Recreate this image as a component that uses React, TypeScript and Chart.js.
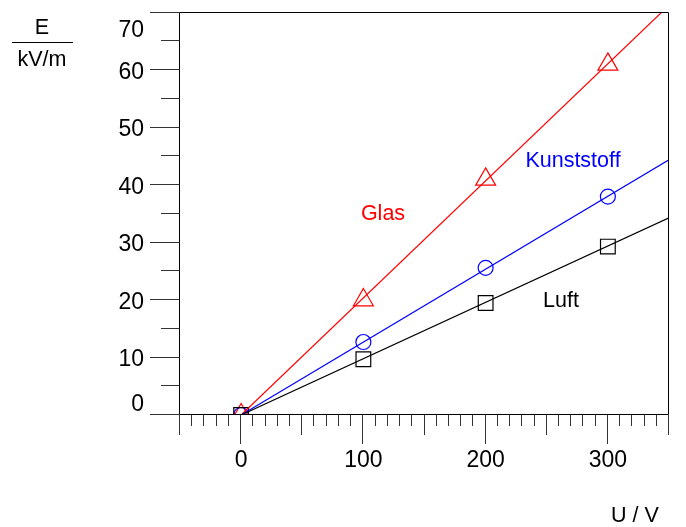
import React, { useEffect, useRef } from "react";
import { Chart, registerables } from "chart.js";

Chart.register(...registerables);

const xValues = [0, 100, 200, 300];
const glas = [0, 20, 41, 61];
const kunststoff = [0, 12.7, 25.6, 38];
const luft = [0, 9.7, 19.5, 29.3];

const fitX = [0, 350];
const glasFit = [0, 71.3];
const kunststoffFit = [0, 44.4];
const luftFit = [0, 34.3];

const xMajorTicks = [0, 100, 200, 300];
const yMajorTicks = [0, 10, 20, 30, 40, 50, 60, 70];

const TICK_FONT = '23px "Liberation Sans", Arial, sans-serif';
const TEXT_FONT = '21.5px "Liberation Sans", Arial, sans-serif';

const pts = (xs: number[], ys: number[]) => xs.map((x, i) => ({ x, y: ys[i] }));

const axesPlugin = {
  id: "customAxes",
  afterDraw(chart: any) {
    const { ctx, chartArea, scales } = chart;
    const { left, right, top, bottom } = chartArea;
    const x = scales.x;
    const y = scales.y;
    const snap = (v: number) => Math.round(v) - 0.5;
    ctx.save();
    ctx.lineWidth = 1;
    // frame
    ctx.strokeStyle = "#000";
    ctx.beginPath();
    ctx.rect(snap(left), snap(top), Math.round(right) - Math.round(left), Math.round(bottom) - Math.round(top));
    ctx.stroke();

    // y ticks
    ctx.strokeStyle = "#333";
    for (let v = 0; v <= 70; v += 5) {
      const py = snap(y.getPixelForValue(v));
      const major = v % 10 === 0;
      ctx.beginPath();
      ctx.moveTo(snap(left), py);
      ctx.lineTo(major ? left - 30 : left - 19, py);
      ctx.stroke();
    }
    // x ticks
    for (let v = -50; v <= 350; v += 10) {
      const px = snap(x.getPixelForValue(v));
      let len = 11;
      if (v % 100 === 0) len = 29;
      else if (v % 50 === 0) len = 20;
      ctx.beginPath();
      ctx.moveTo(px, snap(bottom));
      ctx.lineTo(px, bottom + len);
      ctx.stroke();
    }

    ctx.fillStyle = "#000";
    ctx.font = TICK_FONT;
    // y labels
    ctx.textAlign = "right";
    ctx.textBaseline = "middle";
    yMajorTicks.forEach((v) => {
      let py = y.getPixelForValue(v) + 2.5;
      if (v === 70) py = y.getPixelForValue(v) + 18;
      if (v === 0) py = y.getPixelForValue(v) - 10.5;
      ctx.fillText(String(v), left - 36, py);
    });
    // x labels
    ctx.textAlign = "center";
    xMajorTicks.forEach((v) => {
      ctx.fillText(String(v), x.getPixelForValue(v), bottom + 46);
    });

    // axis titles
    ctx.font = TEXT_FONT;
    ctx.fillText("E", 42, 28);
    ctx.fillText("kV/m", 42, 60);
    ctx.beginPath();
    ctx.moveTo(12, 42.5);
    ctx.lineTo(73, 42.5);
    ctx.strokeStyle = "#000";
    ctx.stroke();
    ctx.fillText("U / V", 635, 516);

    // series labels
    ctx.fillStyle = "#ff0000";
    ctx.fillText("Glas", 383, 214);
    ctx.fillStyle = "#0000ff";
    ctx.fillText("Kunststoff", 573, 161);
    ctx.fillStyle = "#000";
    ctx.fillText("Luft", 561, 301);
    ctx.restore();
  },
};

export default function App() {
  const ref = useRef<HTMLCanvasElement>(null);
  useEffect(() => {
    if (!ref.current) return;
    const lineDs = (data: number[], color: string) => ({
      data: pts(fitX, data),
      showLine: true,
      borderColor: color,
      borderWidth: 1.2,
      pointRadius: 0,
      clip: 0,
    });
    const markerDs = (data: number[], color: string, style: string, r: number) => ({
      data: pts(xValues, data),
      showLine: false,
      borderColor: color,
      backgroundColor: "rgba(0,0,0,0)",
      borderWidth: 1.2,
      pointStyle: style,
      pointRadius: r,
      clip: 0,
    });
    const chart = new Chart(ref.current, {
      type: "scatter",
      data: {
        datasets: [
          lineDs(luftFit, "#000000"),
          lineDs(kunststoffFit, "#0000ff"),
          lineDs(glasFit, "#ff0000"),
          markerDs(luft, "#000000", "rect", 10.4),
          markerDs(kunststoff, "#0000ff", "circle", 7.5),
          markerDs(glas, "#ff0000", "triangle", 11.5),
        ] as any,
      },
      options: {
        animation: false,
        responsive: false,
        devicePixelRatio: 1,
        layout: { padding: { left: 180, right: 17, top: 9, bottom: 112 } },
        plugins: { legend: { display: false }, tooltip: { enabled: false } },
        events: [],
        scales: {
          x: { type: "linear", min: -50, max: 350, display: false },
          y: { type: "linear", min: 0, max: 70, display: false },
        },
      },
      plugins: [axesPlugin],
    });
    return () => chart.destroy();
  }, []);
  return (
    <div style={{ position: "absolute", left: 0, top: 0, width: 686, height: 527, background: "#fff" }}>
      <canvas ref={ref} width={686} height={527} />
    </div>
  );
}
